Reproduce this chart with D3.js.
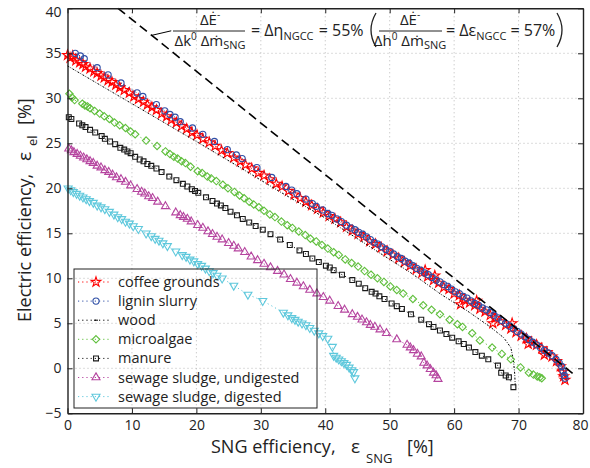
<!DOCTYPE html>
<html><head><meta charset="utf-8">
<script src="https://cdn.jsdelivr.net/npm/d3@7"></script>
<style>
body{margin:0;background:#fff}
svg{display:block;font-family:"Open Sans",sans-serif}
</style>
</head><body>
<svg id="c" width="590" height="468"></svg>
<script>
// ---------- data ----------
const xTicks=[0,10,20,30,40,50,60,70,80];
const yTicks=[-5,0,5,10,15,20,25,30,35,40];

const coffee=[[0,34.8],[0.4,34.5],[0.8,34.7],[1.3,34.2],[1.9,34.0],[2.4,33.8],[2.8,33.5],[3.5,33.3],[4.1,33.0],[4.6,32.8],[5.2,32.5],[5.7,32.3],[6.3,32.0],[6.9,31.8],[7.5,31.5],[8.1,31.2],[8.8,30.9],[9.6,30.6],[10.3,30.2],[11.0,29.9],[11.8,29.6],[12.4,29.3],[13.1,29.0],[13.8,28.7],[14.6,28.3],[15.4,28.0],[16.1,27.6],[16.9,27.3],[17.7,26.9],[18.5,26.6],[19.3,26.2],[20.1,25.9],[21.0,25.5],[22.0,25.1],[22.9,24.7],[23.9,24.2],[24.8,23.9],[25.8,23.4],[26.8,23.0],[27.6,22.6],[28.6,22.2],[29.6,21.7],[30.5,21.4],[31.4,21.0],[32.4,20.5],[33.3,20.2],[34.3,19.7],[35.2,19.3],[36.1,18.9],[37.0,18.5],[37.9,18.1],[38.8,17.7],[39.7,17.3],[40.6,16.9],[41.5,16.6],[42.4,16.2],[43.3,15.7],[44.2,15.3],[45.1,14.9],[46.0,14.6],[46.9,14.1],[47.8,13.8],[48.7,13.4],[49.6,13.0],[50.5,12.6],[51.4,12.2],[52.3,11.8],[53.2,11.4],[54.1,11.0],[55.0,10.6],[55.5,10.9],[55.9,10.2],[56.8,9.8],[57.0,10.3],[57.6,9.5],[58.4,9.0],[59.2,8.8],[60.0,8.3],[60.8,8.1],[61.0,7.1],[61.6,7.6],[62.4,7.3],[63.2,7.0],[63.5,7.5],[64.0,6.6],[64.8,6.3],[65.6,5.9],[66.0,5.0],[66.4,5.6],[67.2,5.2],[68.0,4.8],[68.8,4.4],[69.0,5.0],[69.6,4.0],[70.4,3.6],[71.2,3.3],[71.5,2.7],[72.0,2.9],[72.8,2.6],[73.6,2.2],[74.0,1.5],[74.4,1.8],[75.2,1.3],[75.9,0.8],[76.5,0.2],[76.8,-0.4],[77.0,-0.9],[77.2,-1.3]];

const lignin=[[1.2,35.0],[2.0,34.7],[2.6,34.4],[4.6,33.4],[6.3,32.6],[8.3,31.7],[10.8,30.6],[11.7,30.2],[13.8,29.3],[15.1,28.6],[15.9,28.2],[16.7,27.9],[17.5,27.4],[19.4,26.7],[21.0,26.0],[22.8,25.2],[24.8,24.3],[26.2,23.7],[27.1,23.3],[29.4,22.3],[31.7,21.2],[33.9,20.2],[34.8,19.8],[35.6,19.4],[37.0,18.8],[38.0,18.3],[38.6,18.0],[39.6,17.6],[40.4,17.2],[41.0,17.0],[41.8,16.6],[42.5,16.3],[43.3,15.9],[44.0,15.6],[44.6,15.4],[45.2,15.1],[45.8,14.9],[46.4,14.6],[47.0,14.3],[47.6,14.0],[48.2,13.8],[48.8,13.5],[49.4,13.2],[50.0,13.0],[50.6,12.7],[51.2,12.4],[51.8,12.2],[52.4,11.9],[53.0,11.7],[53.6,11.4],[54.2,11.1],[54.8,10.9],[55.4,10.6],[56.0,10.4],[56.6,10.1],[57.2,9.8],[57.8,9.6],[58.4,9.3],[59.0,9.1],[59.6,8.8],[60.2,8.5],[60.8,8.3],[61.4,8.0],[62.0,7.8],[62.6,7.5],[63.2,7.2],[63.8,7.0],[64.4,6.7],[65.0,6.5],[65.6,6.2],[66.2,5.9],[66.8,5.6],[67.4,5.3],[68.0,5.0],[68.6,4.7],[69.2,4.4],[69.8,4.1],[70.4,3.8],[71.0,3.5],[71.6,3.2],[72.2,2.9],[72.8,2.6],[73.4,2.3],[74.0,2.0],[74.6,1.7],[75.2,1.4],[75.8,1.0],[76.3,0.6],[76.7,0.2],[76.9,-0.3],[77.1,-0.8],[77.2,-1.1]];

const wood=[[0,33.6],[5,31.5],[10,29.4],[15,27.3],[20,25.2],[26.8,22.3],[33,19.6],[40,16.7],[45,14.4],[50,12.1],[53.3,10.6],[58,8.2],[62,6.4],[65.6,4.6],[67.7,3.4],[68.8,2.3],[69.2,0.9],[69.4,-0.6],[69.5,-2.1]];

const microalgae=[[0.3,30.5],[0.7,30.1],[1.1,29.8],[2.3,29.4],[2.7,29.2],[3.1,29.1],[3.5,28.9],[4.2,28.6],[5.0,28.3],[5.7,28.0],[6.5,27.7],[7.3,27.3],[8.1,27.0],[9.0,26.7],[9.8,26.3],[10.5,26.0],[12.2,25.3],[13.9,24.7],[15.2,24.1],[15.9,23.8],[16.5,23.5],[17.1,23.3],[17.7,23.0],[18.3,22.8],[19.1,22.4],[20.2,21.9],[20.9,21.7],[21.7,21.3],[22.3,21.1],[23.1,20.8],[24.1,20.4],[24.9,20.0],[25.9,19.6],[26.7,19.2],[27.4,18.9],[28.2,18.5],[28.9,18.2],[29.7,17.9],[30.5,17.5],[31.4,17.1],[32.2,16.8],[33.2,16.3],[34.1,15.9],[34.9,15.6],[35.9,15.2],[36.9,14.8],[37.7,14.4],[38.6,14.1],[39.5,13.7],[40.4,13.3],[41.3,12.9],[42.1,12.6],[43.1,12.1],[44.1,11.7],[45.1,11.3],[46.1,10.8],[47.1,10.4],[48.1,10.0],[49.1,9.6],[50.1,9.1],[51.1,8.7],[52.1,8.3],[53.6,7.7],[55.2,7.0],[56.5,6.5],[57.8,6.0],[59.3,5.4],[60.5,4.9],[61.3,4.6],[62.8,3.9],[64.0,3.1],[65.9,2.3],[67.4,1.6],[68.8,1.0],[70.3,0.1],[71.6,-0.5],[72.3,-0.7],[72.9,-0.9],[73.3,-1.0],[73.6,-1.1]];

const manure=[[0.2,27.9],[0.6,27.7],[1.8,27.2],[2.3,27.0],[2.8,26.8],[3.5,26.5],[4.3,26.2],[5.3,25.8],[5.8,25.5],[6.6,25.2],[7.4,24.9],[8.2,24.5],[8.8,24.3],[9.3,24.1],[9.8,23.9],[10.5,23.5],[11.2,23.2],[11.8,23.0],[12.4,22.7],[13.0,22.5],[13.8,22.2],[14.6,21.8],[15.8,21.3],[16.9,20.9],[17.9,20.5],[18.6,20.2],[19.3,19.9],[19.8,19.7],[20.3,19.5],[21.5,19.0],[22.5,18.6],[23.2,18.3],[23.8,18.1],[24.5,17.8],[25.3,17.4],[26.3,17.0],[27.2,16.6],[28.2,16.2],[29.2,15.8],[30.3,15.4],[31.5,14.9],[33.0,14.3],[34.5,13.7],[36.0,13.1],[37.0,12.7],[38.0,12.2],[39.0,11.8],[40.1,11.4],[40.7,11.2],[41.3,10.9],[42.6,10.4],[44.2,9.8],[45.2,9.4],[46.2,8.9],[47.2,8.5],[47.8,8.3],[48.4,8.0],[49.2,7.7],[50.3,7.2],[51.1,6.9],[51.9,6.6],[53.3,6.0],[54.9,5.4],[56.1,4.9],[56.8,4.6],[57.8,4.2],[58.8,3.8],[59.7,3.4],[60.7,3.0],[61.5,2.7],[62.3,2.3],[63.3,1.8],[64.3,1.4],[65.3,1.0],[66.8,0.3],[67.3,-0.5],[68.0,-0.8],[68.5,-1.0],[69.2,-2.1]];

const sludgeUndigested=[[0.2,24.4],[0.6,24.2],[1.0,24.0],[1.5,23.8],[2.0,23.6],[2.5,23.4],[3.0,23.2],[3.5,23.0],[4.0,22.8],[4.6,22.5],[5.2,22.3],[5.8,22.0],[6.4,21.8],[7.0,21.5],[7.6,21.2],[8.3,21.0],[9.0,20.7],[9.8,20.3],[10.8,19.9],[11.5,19.6],[12.0,19.4],[12.6,19.1],[13.2,18.9],[14.0,18.5],[15.2,18.0],[16.8,17.3],[17.5,17.0],[18.0,16.8],[18.6,16.6],[19.2,16.3],[20.2,15.9],[21.0,15.6],[21.8,15.2],[22.5,14.9],[23.2,14.6],[24.0,14.3],[25.0,13.9],[25.8,13.6],[26.5,13.3],[27.5,12.9],[28.5,12.4],[29.5,12.0],[30.5,11.6],[31.5,11.2],[32.6,10.8],[33.6,10.4],[34.6,9.9],[35.6,9.5],[36.6,9.1],[37.6,8.7],[38.7,8.3],[39.7,7.9],[40.7,7.5],[42.0,6.9],[43.0,6.5],[44.2,6.0],[45.0,5.7],[45.7,5.4],[46.4,5.1],[47.0,4.8],[47.7,4.6],[48.5,4.3],[49.5,3.9],[51.1,3.2],[52.7,2.6],[53.2,2.3],[53.7,2.0],[54.3,1.6],[54.9,1.3],[55.3,0.6],[55.8,0.3],[56.3,-0.1],[56.8,-0.5],[57.2,-0.8],[57.5,-1.2]];

const sludgeDigested=[[0.1,20.0],[0.5,19.8],[0.9,19.6],[1.4,19.4],[1.9,19.2],[2.4,19.0],[2.9,18.8],[3.4,18.6],[4.0,18.4],[4.6,18.1],[5.2,17.9],[5.8,17.7],[6.5,17.4],[7.2,17.1],[7.8,16.8],[8.4,16.6],[9.0,16.3],[9.6,16.1],[10.2,15.8],[11.0,15.5],[12.2,15.0],[13.0,14.7],[13.6,14.4],[14.2,14.2],[14.8,13.9],[15.5,13.6],[16.8,13.0],[17.8,12.6],[18.4,12.4],[19.0,12.1],[19.6,11.9],[20.2,11.6],[20.8,11.4],[21.4,11.1],[22.0,10.8],[22.6,10.6],[23.2,10.3],[24.0,10.0],[25.8,9.2],[28.0,8.2],[30.3,7.5],[33.5,6.2],[34.2,5.9],[34.8,5.6],[35.3,5.4],[35.8,5.2],[36.4,5.0],[37.0,4.8],[37.6,4.5],[38.3,4.2],[39.0,3.9],[39.6,3.6],[40.4,3.3],[41.1,2.4],[41.3,1.4],[41.7,1.2],[42.1,1.0],[42.5,0.8],[42.9,0.6],[43.3,0.4],[43.7,0.1],[44.1,-0.2],[44.4,-0.4],[44.6,-1.1]];

const ngccLine=[[7.84,40],[78.8,-0.8]];
const leader=[[13.1,37.0],[16.1,37.5]];

const seriesNames=["coffee grounds","lignin slurry","wood","microalgae","manure","sewage sludge, undigested","sewage sludge, digested"];
const seriesData=[coffee,lignin,wood,microalgae,manure,sludgeUndigested,sludgeDigested];
const seriesColors=["#ff0000","#2f4fa6","#000000","#5fbf3c","#1a1a1a","#b5449f","#5ec8dc"];
const seriesMarkers=["star","circle","none","diamond","square","triUp","triDown"];

// ---------- chart ----------
const svg=d3.select("#c");
const x=d3.scaleLinear().domain([0,80]).range([67.5,583]);
const y=d3.scaleLinear().domain([-5,40]).range([413.3,8.3]);

// grid
const grid=svg.append("g").attr("stroke","#b8b8b8").attr("stroke-width",1).attr("stroke-dasharray","1,3");
grid.selectAll(".gx").data(xTicks.slice(1,-1)).join("line")
  .attr("x1",d=>x(d)).attr("x2",d=>x(d)).attr("y1",y(40)).attr("y2",y(-5));
grid.selectAll(".gy").data(yTicks.slice(1,-1)).join("line")
  .attr("y1",d=>y(d)).attr("y2",d=>y(d)).attr("x1",x(0)).attr("x2",x(80));

// marker paths
function markerPath(type){
  switch(type){
    case "star": return d3.symbol(d3.symbolStar,30)();
    case "circle": return d3.symbol(d3.symbolCircle,30)();
    case "diamond": return "M0,-3.7L3.7,0L0,3.7L-3.7,0Z";
    case "square": return d3.symbol(d3.symbolSquare,24)();
    case "triUp": return d3.symbol(d3.symbolTriangle,28)();
    case "triDown": return d3.symbol(d3.symbolTriangle,28)();
  }
  return null;
}
const line=d3.line().x(d=>x(d[0])).y(d=>y(d[1]));

seriesData.forEach((data,i)=>{
  const g=svg.append("g");
  g.append("path").attr("d",line(data)).attr("fill","none")
    .attr("stroke",seriesColors[i]).attr("stroke-width",1)
    .attr("stroke-dasharray",seriesMarkers[i]==="none"?"2,1.5,0.8,1.5":"1.2,3");
  const mp=markerPath(seriesMarkers[i]);
  if(mp){
    g.selectAll("path.m").data(data).join("path").attr("class","m")
      .attr("d",mp)
      .attr("transform",d=>`translate(${x(d[0])},${y(d[1])})`+(seriesMarkers[i]==="triDown"?" rotate(180)":""))
      .attr("fill","none").attr("stroke",seriesColors[i]).attr("stroke-width",1.1);
  }
});

// NGCC dashed line and leader
svg.append("path").attr("d",line(ngccLine)).attr("fill","none")
  .attr("stroke","#000").attr("stroke-width",1.6).attr("stroke-dasharray","9,5");
svg.append("path").attr("d",line(leader)).attr("fill","none")
  .attr("stroke","#000").attr("stroke-width",1);

// axes
const fmt=d3.format("");
const axB=svg.append("g").attr("transform",`translate(0,${y(-5)})`)
  .call(d3.axisBottom(x).tickValues(xTicks).tickSizeInner(-5).tickSizeOuter(0).tickPadding(7).tickFormat(fmt));
const axL=svg.append("g").attr("transform",`translate(${x(0)},0)`)
  .call(d3.axisLeft(y).tickValues(yTicks).tickSizeInner(-5).tickSizeOuter(0).tickPadding(6).tickFormat(fmt));
const axT=svg.append("g").attr("transform",`translate(0,${y(40)})`)
  .call(d3.axisTop(x).tickValues(xTicks).tickSizeInner(-5).tickSizeOuter(0).tickFormat(""));
const axR=svg.append("g").attr("transform",`translate(${x(80)},0)`)
  .call(d3.axisRight(y).tickValues(yTicks).tickSizeInner(-5).tickSizeOuter(0).tickFormat(""));
[axB,axL,axT,axR].forEach(a=>{
  a.select(".domain").attr("stroke","#222").attr("stroke-width",1.4);
  a.selectAll(".tick line").attr("stroke","#222");
  a.selectAll("text").attr("font-family","'Open Sans',sans-serif").attr("font-size",14).attr("fill","#222");
});
axB.selectAll(".tick text").filter(d=>d===80).attr("dx",-3);
axL.selectAll(".tick text").filter(d=>d===40).attr("dy","0.55em");

// axis labels
const xl=svg.append("text").attr("y",453).attr("font-size",18).attr("fill","#222");
xl.append("tspan").attr("x",211).text("SNG efficiency,");
xl.append("tspan").attr("x",351).attr("font-size",19).text("ε");
xl.append("tspan").attr("x",366).attr("dy",10).attr("font-size",13).text("SNG");
xl.append("tspan").attr("x",407).attr("dy",-10).text("[%]");

const yl=svg.append("text").attr("transform","translate(31,322) rotate(-90)").attr("font-size",18).attr("fill","#222");
yl.append("tspan").attr("x",0).text("Electric efficiency,");
yl.append("tspan").attr("x",161).attr("font-size",19).text("ε");
yl.append("tspan").attr("x",176).attr("dy",6).attr("font-size",13).text("el");
yl.append("tspan").attr("x",197).attr("dy",-6).text("[%]");

// annotation
const ann=svg.append("g").attr("font-size",16).attr("fill","#222");
function fraction(cx,x0,x1,letter){
  const num=ann.append("text").attr("x",cx).attr("y",25).attr("text-anchor","middle").attr("font-size",15);
  num.append("tspan").text("ΔĖ");
  num.append("tspan").attr("dy",-7).attr("font-size",10).text("-");
  ann.append("line").attr("x1",x0).attr("x2",x1).attr("y1",31).attr("y2",31).attr("stroke","#222").attr("stroke-width",1);
  const den=ann.append("text").attr("x",cx).attr("y",46).attr("text-anchor","middle").attr("font-size",15);
  den.append("tspan").text("Δ"+letter);
  den.append("tspan").attr("dy",-6).attr("font-size",10).text("0");
  den.append("tspan").attr("dy",6).text(" Δṁ");
  den.append("tspan").attr("dy",3).attr("font-size",11).text("SNG");
}
fraction(210,173,245,"k");
fraction(410,379,442,"h");
const eq1=ann.append("text").attr("x",251).attr("y",36);
eq1.append("tspan").text("= Δη");
eq1.append("tspan").attr("dy",4).attr("font-size",11).text("NGCC");
eq1.append("tspan").attr("dy",-4).attr("dx",1).text(" = 55%");
const eq2=ann.append("text").attr("x",446).attr("y",36);
eq2.append("tspan").text("= Δε");
eq2.append("tspan").attr("dy",4).attr("font-size",11).text("NGCC");
eq2.append("tspan").attr("dy",-4).text(" = 57%");
ann.append("path").attr("d","M376,13 Q366,30 376,47").attr("fill","none").attr("stroke","#222").attr("stroke-width",1.3);
ann.append("path").attr("d","M557,13 Q567,30 557,47").attr("fill","none").attr("stroke","#222").attr("stroke-width",1.3);

// legend
const lg=svg.append("g");
lg.append("rect").attr("x",74).attr("y",269).attr("width",243).attr("height",139)
  .attr("fill","none").attr("stroke","#222").attr("stroke-width",1);
seriesNames.forEach((name,i)=>{
  const cy=282+i*19.1;
  lg.append("line").attr("x1",78).attr("x2",111).attr("y1",cy).attr("y2",cy)
    .attr("stroke",seriesColors[i]).attr("stroke-width",1)
    .attr("stroke-dasharray","1.2,3");
  const mp=markerPath(seriesMarkers[i]);
  if(mp){
    lg.append("path").attr("d",mp)
      .attr("transform",`translate(96,${cy})`+(seriesMarkers[i]==="triDown"?" rotate(180)":""))
      .attr("fill","none").attr("stroke",seriesColors[i]).attr("stroke-width",1.1);
  } else {
    lg.append("line").attr("x1",94).attr("x2",98).attr("y1",cy).attr("y2",cy).attr("stroke","#000").attr("stroke-width",1);
  }
  lg.append("text").attr("x",118).attr("y",cy+5).attr("font-size",14.5).attr("fill","#222").text(name);
});
</script>
</body></html>
